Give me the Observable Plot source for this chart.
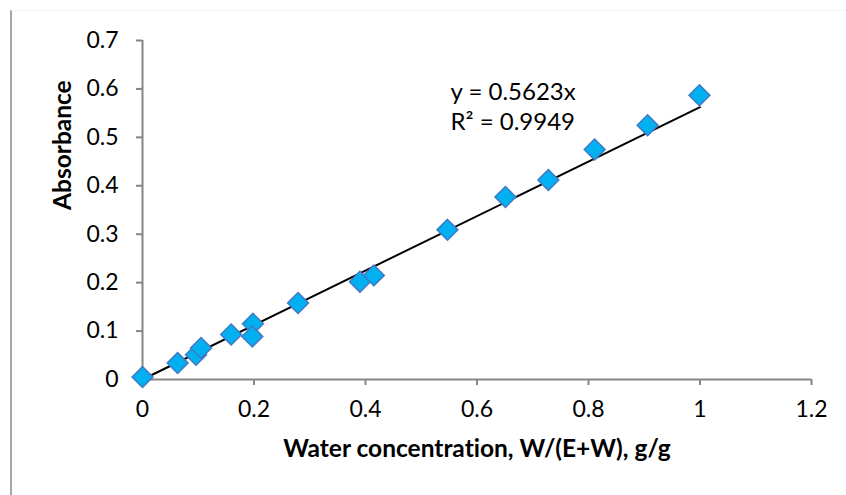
<!DOCTYPE html>
<html>
<head>
<meta charset="utf-8">
<script src="https://cdn.jsdelivr.net/npm/d3@7"></script>
<script src="https://cdn.jsdelivr.net/npm/@observablehq/plot@0.6"></script>
<style>
  html, body { margin: 0; padding: 0; background: #fff; }
  #wrap { position: relative; width: 846px; height: 495px; overflow: hidden; }
  #frame { position: absolute; left: 10px; top: 10px; width: 900px; height: 600px;
           border-left: 2px solid #a6a6a6; border-top: 1px solid #f2f2f2; pointer-events: none; }
  #chart { position: absolute; left: 0; top: 0; }
  #chart svg text { font-variant-ligatures: none; }
</style>
</head>
<body>
<div id="wrap">
  <div id="chart"></div>
  <div id="frame"></div>
</div>
<script>
// Water concentration W/(E+W), g/g
const water = [0, 0.063, 0.096, 0.105, 0.159, 0.198, 0.197, 0.279, 0.390, 0.415, 0.547, 0.651, 0.728, 0.811, 0.906, 0.999];
// Measured absorbance
const absorbance = [0.005, 0.034, 0.051, 0.065, 0.093, 0.115, 0.089, 0.158, 0.202, 0.215, 0.309, 0.377, 0.412, 0.475, 0.525, 0.587];

// Linear fit through the origin
const slope = 0.5623;
const rSquared = 0.9949;
const fitRange = [0, 1];

const xTicks = [0, 0.2, 0.4, 0.6, 0.8, 1, 1.2];
const yTicks = [0, 0.1, 0.2, 0.3, 0.4, 0.5, 0.6, 0.7];

const points = water.map((w, i) => ({x: w, y: absorbance[i]}));
const fit = fitRange.map(x => ({x, y: slope * x}));
const eqLines = [`y = ${slope}x`, `R² = ${rSquared}`];

const font = "Lato, 'Open Sans', sans-serif";
const axisColor = "#868686";

const chart = Plot.plot({
  width: 846,
  height: 495,
  marginLeft: 142,
  marginRight: 35,
  marginTop: 40,
  marginBottom: 116,
  style: {fontFamily: font, fontSize: "23px", color: "#000", background: "transparent"},
  x: {domain: [0, 1.2]},
  y: {domain: [0, 0.7]},
  marks: [
    Plot.ruleY([0], {stroke: axisColor, strokeWidth: 2}),
    Plot.ruleX([0], {stroke: axisColor, strokeWidth: 2}),
    Plot.axisX(xTicks, {
      tickSize: 6, tickPadding: 15, stroke: axisColor, strokeWidth: 2,
      fill: "#000", fontSize: 23, label: null, tickFormat: d => String(d)
    }),
    Plot.axisY(yTicks, {
      tickSize: 6, tickPadding: 18, stroke: axisColor, strokeWidth: 2,
      fill: "#000", fontSize: 23, label: null, tickFormat: d => String(d)
    }),
    Plot.line(fit, {x: "x", y: "y", stroke: "#000", strokeWidth: 2}),
    Plot.dot(points, {
      x: "x", y: "y", symbol: "diamond2", r: 9.4,
      fill: "#00b0f0", stroke: "#4279c4", strokeWidth: 1.5
    }),
    Plot.text([eqLines[0]], {x: 0.5525, y: 0.593, text: d => d, textAnchor: "start", fontSize: 24, fill: "#000"}),
    Plot.text([eqLines[1]], {x: 0.5525, y: 0.531, text: d => d, textAnchor: "start", fontSize: 24, fill: "#000"}),
    Plot.text(["Water concentration, W/(E+W), g/g"], {
      frameAnchor: "bottom", lineAnchor: "middle", dy: 70, text: d => d,
      fontSize: 24.5, fontWeight: "bold", fill: "#000"
    }),
    Plot.text(["Absorbance"], {
      frameAnchor: "left", dx: -79, text: d => d, rotate: -90,
      fontSize: 24.5, fontWeight: "bold", fill: "#000"
    })
  ]
});

document.getElementById("chart").appendChild(chart);
</script>
</body>
</html>
